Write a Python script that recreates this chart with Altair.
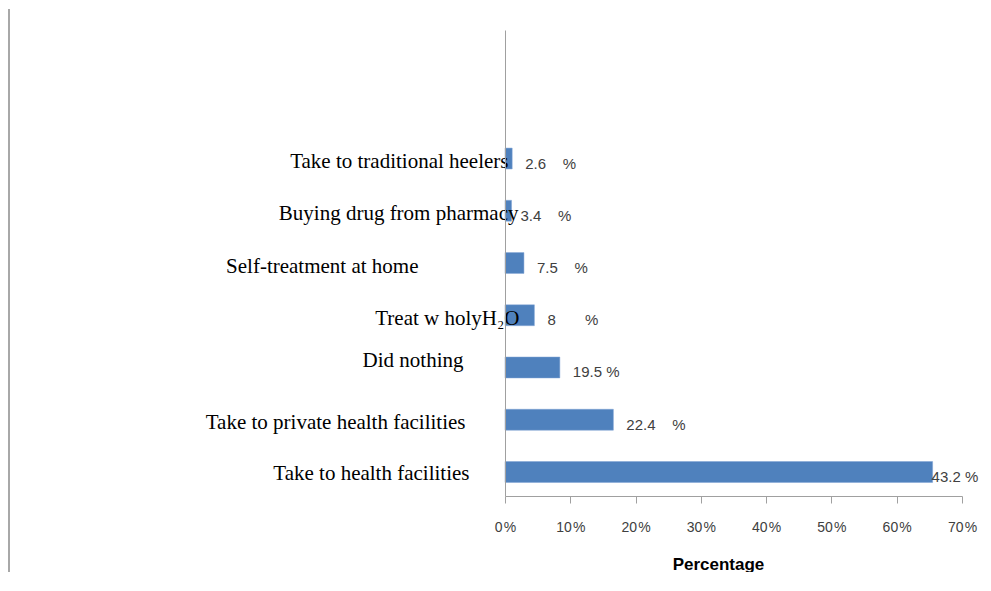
import altair as alt
import pandas as pd

# ---- data ----
categories = [
    "Take to traditional heelers",
    "Buying drug from pharmacy",
    "Self-treatment at home",
    "Treat w holyH\u2082O",
    "Did nothing",
    "Take to private health facilities",
    "Take to health facilities",
]
bar_values = [1.1, 1.0, 2.9, 4.5, 8.4, 16.6, 65.5]
NB = "\u00a0"
value_labels = [
    "2.6" + NB * 4 + "%",
    "3.4" + NB * 4 + "%",
    "7.5" + NB * 4 + "%",
    "8" + NB * 7 + "%",
    "19.5" + NB + "%",
    "22.4" + NB * 4 + "%",
    "43.2" + NB + "%",
]
x_ticks = [0, 10, 20, 30, 40, 50, 60, 70]
blank_rows = [" ", "  "]

df = pd.DataFrame({"category": categories, "value": bar_values, "label": value_labels})
y_domain = blank_rows + categories

# ---- per-label styling (text boxes are placed unevenly in the original) ----
label_pad = {
    categories[0]: -3, categories[1]: -13, categories[2]: 87, categories[3]: -14,
    categories[4]: 42, categories[5]: 40, categories[6]: 36,
}
label_off = {categories[4]: -6, categories[6]: 2}
value_dx = {categories[1]: 9, categories[6]: -1}
default_dx = 13


def chain(d, default):
    expr = str(default)
    for k, v in reversed(list(d.items())):
        expr = f"(datum.value == '{k}' ? {v} : {expr})"
    return expr


AX = "#a0a0a0"

y_enc = alt.Y(
    "category:N",
    scale=alt.Scale(domain=y_domain, paddingInner=0.6, paddingOuter=0.26),
    axis=alt.Axis(
        title=None, ticks=False, domainColor=AX, domainWidth=1, zindex=1,
        labelFont="Liberation Serif", labelFontSize=21, labelColor="#000000",
        labelLimit=500, labelAlign="right", labelBaseline="middle",
        labelPadding=alt.ExprRef(chain(label_pad, 40)),
        labelOffset=alt.ExprRef(chain(label_off, 3.5)),
    ),
)
x_enc = alt.X(
    "value:Q",
    scale=alt.Scale(domain=[0, 70], nice=False, zero=True),
    axis=alt.Axis(
        values=x_ticks, grid=False, labelExpr="datum.value + '\u200a%'",
        labelFont="Liberation Sans", labelFontSize=14, labelColor="#404040",
        labelFlush=False, labelOverlap=False, labelPadding=17,
        tickSize=7, tickColor=AX, domainColor=AX,
        title="Percentage", titleFont="Liberation Sans", titleFontSize=17,
        titleFontWeight="bold", titleColor="#000000",
        titleX=213, titleY=73, titleAlign="center", titleBaseline="alphabetic",
    ),
)

base = alt.Chart(df)
bars = base.mark_bar(color="#4F81BD", stroke="#7ea3d4", strokeWidth=0.5).encode(x=x_enc, y=y_enc)

special = list(value_dx.keys())
text_style = dict(align="left", baseline="middle", dy=5, font="Liberation Sans",
                  fontSize=15, color="#404040")
text_layers = [
    base.transform_filter(~alt.FieldOneOfPredicate(field="category", oneOf=special))
    .mark_text(dx=default_dx, **text_style)
    .encode(x="value:Q", y="category:N", text="label:N")
]
for cat, dx in value_dx.items():
    text_layers.append(
        base.transform_filter(alt.FieldEqualPredicate(field="category", equal=cat))
        .mark_text(dx=dx, **text_style)
        .encode(x="value:Q", y="category:N", text="label:N")
    )

frame = alt.Chart(pd.DataFrame({"k": [0]})).mark_rule(color="#a8a8a8", strokeWidth=2).encode(
    x=alt.value(-496), y=alt.value(-21), y2=alt.value(545)
)

chart = (
    alt.layer(bars, *text_layers, frame)
    .properties(
        width=457, height=466,
        autosize=alt.AutoSizeParams(type="none"),
        padding={"left": 497, "top": 22, "right": 21, "bottom": 76},
        background="#ffffff",
    )
    .configure_view(stroke=None)
)

chart.save("out.html", embed_options={"renderer": "svg", "actions": False})
